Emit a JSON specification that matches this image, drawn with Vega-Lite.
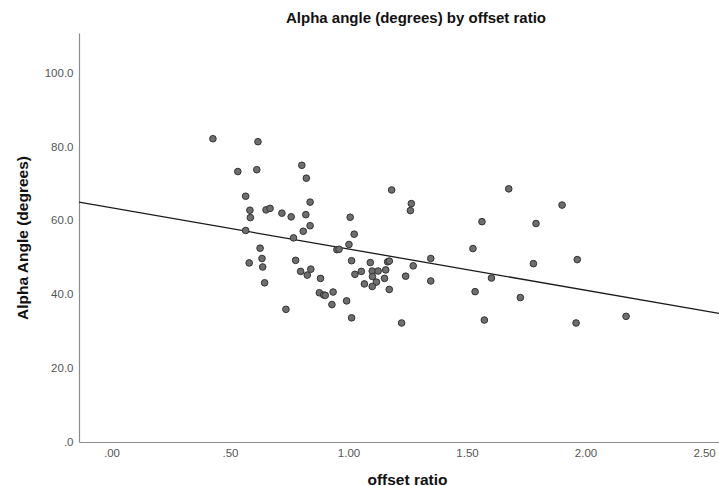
{
  "$schema": "https://vega.github.io/schema/vega-lite/v6.json",
  "autosize": "none",
  "width": 640,
  "height": 409,
  "padding": {"left": 79, "top": 33, "right": 0, "bottom": 44},
  "background": "white",
  "title": {
    "text": "Alpha angle (degrees) by offset ratio",
    "font": "Liberation Sans",
    "fontSize": 15,
    "fontWeight": "bold",
    "color": "#111111",
    "anchor": "middle",
    "frame": "group",
    "dx": 17,
    "offset": 7
  },
  "config": {
    "view": {"stroke": null},
    "axis": {
      "grid": false,
      "ticks": false,
      "domainColor": "#8c8c8c",
      "domainWidth": 1.2,
      "labelFont": "Liberation Sans",
      "labelFontSize": 11.5,
      "labelColor": "#555555",
      "titleFont": "Liberation Sans",
      "titleFontSize": 15.5,
      "titleFontWeight": "bold",
      "titleColor": "#111111"
    }
  },
  "datasets": {
    "points": [
      {"offset_ratio": 0.428, "alpha": 82.3},
      {"offset_ratio": 0.618, "alpha": 81.5},
      {"offset_ratio": 0.533, "alpha": 73.4},
      {"offset_ratio": 0.613, "alpha": 73.9},
      {"offset_ratio": 0.803, "alpha": 75.1},
      {"offset_ratio": 0.822, "alpha": 71.6},
      {"offset_ratio": 0.566, "alpha": 66.7},
      {"offset_ratio": 0.838, "alpha": 65.1},
      {"offset_ratio": 0.584, "alpha": 62.9},
      {"offset_ratio": 0.586, "alpha": 60.9},
      {"offset_ratio": 0.652, "alpha": 63.0},
      {"offset_ratio": 0.669, "alpha": 63.4},
      {"offset_ratio": 0.719, "alpha": 62.1},
      {"offset_ratio": 0.758, "alpha": 61.1},
      {"offset_ratio": 0.820, "alpha": 61.7},
      {"offset_ratio": 1.007, "alpha": 61.0},
      {"offset_ratio": 0.838, "alpha": 58.7},
      {"offset_ratio": 0.809, "alpha": 57.2},
      {"offset_ratio": 0.566, "alpha": 57.4},
      {"offset_ratio": 0.768, "alpha": 55.4},
      {"offset_ratio": 1.024, "alpha": 56.4},
      {"offset_ratio": 1.002, "alpha": 53.6},
      {"offset_ratio": 0.951, "alpha": 52.2},
      {"offset_ratio": 0.960, "alpha": 52.3},
      {"offset_ratio": 0.627, "alpha": 52.6},
      {"offset_ratio": 0.635, "alpha": 49.8},
      {"offset_ratio": 0.581, "alpha": 48.6},
      {"offset_ratio": 0.638, "alpha": 47.5},
      {"offset_ratio": 0.777, "alpha": 49.3},
      {"offset_ratio": 1.013, "alpha": 49.2},
      {"offset_ratio": 0.798, "alpha": 46.3},
      {"offset_ratio": 0.826, "alpha": 45.3},
      {"offset_ratio": 0.841, "alpha": 46.9},
      {"offset_ratio": 0.882, "alpha": 44.4},
      {"offset_ratio": 0.646, "alpha": 43.2},
      {"offset_ratio": 0.877, "alpha": 40.5},
      {"offset_ratio": 0.895, "alpha": 39.9},
      {"offset_ratio": 0.902, "alpha": 39.8},
      {"offset_ratio": 0.935, "alpha": 40.7},
      {"offset_ratio": 0.930, "alpha": 37.3},
      {"offset_ratio": 0.992, "alpha": 38.3},
      {"offset_ratio": 0.736, "alpha": 36.0},
      {"offset_ratio": 1.013, "alpha": 33.7},
      {"offset_ratio": 1.027, "alpha": 45.5},
      {"offset_ratio": 1.054, "alpha": 46.3},
      {"offset_ratio": 1.092, "alpha": 48.7},
      {"offset_ratio": 1.100, "alpha": 46.4},
      {"offset_ratio": 1.125, "alpha": 46.4},
      {"offset_ratio": 1.157, "alpha": 46.7},
      {"offset_ratio": 1.165, "alpha": 48.9},
      {"offset_ratio": 1.172, "alpha": 49.1},
      {"offset_ratio": 1.101, "alpha": 44.9},
      {"offset_ratio": 1.118, "alpha": 43.4},
      {"offset_ratio": 1.100, "alpha": 42.2},
      {"offset_ratio": 1.152, "alpha": 44.4},
      {"offset_ratio": 1.172, "alpha": 41.4},
      {"offset_ratio": 1.067, "alpha": 42.9},
      {"offset_ratio": 1.182, "alpha": 68.4},
      {"offset_ratio": 1.265, "alpha": 64.7},
      {"offset_ratio": 1.261, "alpha": 62.8},
      {"offset_ratio": 1.563, "alpha": 59.8},
      {"offset_ratio": 1.525, "alpha": 52.5},
      {"offset_ratio": 1.347, "alpha": 49.8},
      {"offset_ratio": 1.273, "alpha": 47.8},
      {"offset_ratio": 1.241, "alpha": 45.0},
      {"offset_ratio": 1.347, "alpha": 43.7},
      {"offset_ratio": 1.534, "alpha": 40.8},
      {"offset_ratio": 1.224, "alpha": 32.3},
      {"offset_ratio": 1.573, "alpha": 33.1},
      {"offset_ratio": 1.603, "alpha": 44.5},
      {"offset_ratio": 1.676, "alpha": 68.7},
      {"offset_ratio": 1.901, "alpha": 64.3},
      {"offset_ratio": 1.791, "alpha": 59.3},
      {"offset_ratio": 1.780, "alpha": 48.4},
      {"offset_ratio": 1.965, "alpha": 49.5},
      {"offset_ratio": 1.725, "alpha": 39.2},
      {"offset_ratio": 1.960, "alpha": 32.3},
      {"offset_ratio": 2.171, "alpha": 34.1}
    ],
    "fit": [
      {"offset_ratio": -0.137, "alpha": 65.1},
      {"offset_ratio": 2.563, "alpha": 34.9}
    ]
  },
  "layer": [
    {
      "data": {"name": "fit"},
      "mark": {"type": "line", "color": "#1a1a1a", "strokeWidth": 1.3, "clip": true},
      "encoding": {
        "x": {"field": "offset_ratio", "type": "quantitative"},
        "y": {"field": "alpha", "type": "quantitative"}
      }
    },
    {
      "data": {"name": "points"},
      "mark": {"type": "point", "filled": false, "size": 44, "fill": "#6e6e6e", "fillOpacity": 1, "stroke": "#333333", "strokeWidth": 1, "opacity": 1},
      "encoding": {
        "x": {
          "field": "offset_ratio",
          "type": "quantitative",
          "scale": {"domain": [-0.137, 2.563], "nice": false, "zero": false},
          "axis": {
            "title": "offset ratio",
            "values": [0, 0.5, 1, 1.5, 2, 2.5],
            "labelExpr": "datum.value < 1 ? substring(format(datum.value, '.2f'), 1) : format(datum.value, '.2f')",
            "labelPadding": 5,
            "titleX": 328,
            "titleY": 37,
            "titleAlign": "center",
            "titleBaseline": "middle"
          }
        },
        "y": {
          "field": "alpha",
          "type": "quantitative",
          "scale": {"domain": [0, 111], "nice": false},
          "axis": {
            "title": "Alpha Angle (degrees)",
            "values": [0, 20, 40, 60, 80, 100],
            "labelExpr": "datum.value == 0 ? '.0' : format(datum.value, '.1f')",
            "labelPadding": 6,
            "titleX": -57,
            "titleY": 204.5,
            "titleAlign": "center",
            "titleBaseline": "middle",
            "titleAngle": -90
          }
        }
      }
    }
  ]
}
